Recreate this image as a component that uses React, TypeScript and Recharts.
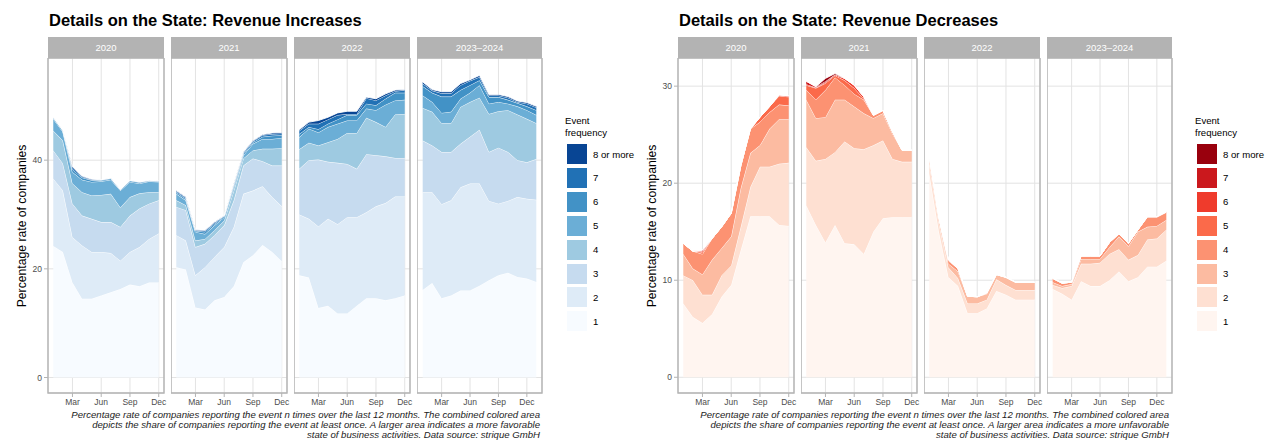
import React from 'react'
import { AreaChart, Area, XAxis, YAxis, CartesianGrid, ReferenceArea } from 'recharts'

const FONT = '"Liberation Sans", Arial, Helvetica, sans-serif'

// RColorBrewer 8-class palettes, level 1 first
const BLUES = ['#F7FBFF', '#DEEBF7', '#C6DBEF', '#9ECAE1', '#6BAED6', '#4292C6', '#2171B5', '#084594']
const REDS  = ['#FFF5F0', '#FEE0D2', '#FCBBA1', '#FC9272', '#FB6A4A', '#EF3B2C', '#CB181D', '#99000D']

const FREQ_LABELS = ['1', '2', '3', '4', '5', '6', '7', '8 or more']
const FACETS = ['2020', '2021', '2022', '2023–2024']
const MONTH_TICKS = [3, 6, 9, 12]
const MONTH_NAMES: Record<number, string> = { 3: 'Mar', 6: 'Jun', 9: 'Sep', 12: 'Dec' }

// ── Revenue increases: share (%) per event frequency, one row per level 1..8 ──
const INC_2020 = [
  [24.2, 23.1, 17.5, 14.5, 14.5, 15.1, 15.7, 16.3, 17.1, 16.8, 17.5, 17.5],
  [12.4, 11.3, 8.3, 9.8, 8.6, 8.0, 7.2, 5.2, 6.0, 7.2, 8.0, 9.0],
  [5.2, 5.0, 6.2, 5.5, 6.1, 5.5, 5.7, 6.2, 6.7, 7.1, 6.5, 6.1],
  [3.6, 4.2, 3.7, 4.3, 4.3, 5.0, 5.2, 3.6, 3.4, 2.8, 2.1, 1.5],
  [2.2, 1.6, 2.1, 2.3, 2.5, 2.5, 2.6, 3.1, 2.8, 1.8, 2.0, 1.9],
  [0.2, 0.2, 0.5, 0.4, 0.3, 0.2, 0.2, 0.1, 0.2, 0.2, 0.1, 0.1],
  [0.1, 0.1, 0.3, 0.2, 0.1, 0.1, 0.1, 0.1, 0.1, 0.1, 0.1, 0.1],
  [0.0, 0.0, 0.2, 0.1, 0.1, 0.0, 0.0, 0.0, 0.0, 0.0, 0.0, 0.0],
]
const INC_2021 = [
  [20.3, 19.9, 12.9, 12.5, 14.2, 14.8, 16.8, 21.2, 22.5, 24.4, 23.1, 21.4],
  [5.9, 5.3, 5.9, 7.8, 8.0, 9.2, 10.9, 12.6, 11.9, 10.8, 10.1, 10.1],
  [5.2, 5.6, 5.2, 4.3, 4.0, 4.0, 4.9, 5.2, 5.9, 4.6, 5.8, 7.5],
  [1.2, 0.9, 1.2, 0.9, 0.9, 0.9, 1.8, 1.3, 1.5, 2.3, 3.1, 3.2],
  [1.2, 0.9, 1.6, 0.9, 0.9, 0.6, 0.6, 0.6, 1.2, 1.8, 1.8, 1.9],
  [0.3, 0.3, 0.2, 0.4, 0.3, 0.2, 0.4, 0.3, 0.3, 0.4, 0.6, 0.5],
  [0.2, 0.2, 0.1, 0.2, 0.2, 0.1, 0.2, 0.2, 0.2, 0.3, 0.3, 0.3],
  [0.1, 0.1, 0.1, 0.1, 0.1, 0.0, 0.1, 0.1, 0.1, 0.1, 0.2, 0.2],
]
const INC_2022 = [
  [18.8, 18.4, 12.8, 13.2, 11.8, 11.8, 13.2, 14.6, 14.6, 14.2, 14.6, 15.1],
  [11.2, 10.8, 15.0, 16.0, 16.4, 17.7, 16.3, 15.8, 16.9, 17.9, 18.7, 18.2],
  [8.4, 10.8, 12.3, 10.5, 11.3, 9.8, 8.9, 10.7, 9.4, 8.6, 7.1, 7.1],
  [3.6, 3.2, 2.6, 3.6, 4.4, 5.7, 6.6, 6.7, 6.1, 5.4, 8.0, 8.1],
  [2.2, 2.6, 2.4, 2.8, 2.8, 2.3, 2.3, 1.7, 2.2, 4.1, 2.6, 2.6],
  [0.6, 0.3, 0.6, 0.6, 0.8, 1.0, 1.0, 0.9, 0.9, 1.1, 1.4, 1.3],
  [0.6, 0.6, 1.0, 0.8, 0.8, 0.2, 0.2, 1.0, 0.9, 0.6, 0.3, 0.5],
  [0.2, 0.3, 0.6, 0.4, 0.4, 0.5, 0.5, 0.2, 0.3, 0.3, 0.2, 0.1],
]
const INC_2023 = [
  [16.1, 17.4, 14.6, 15.1, 16.0, 16.0, 16.9, 17.9, 18.8, 19.3, 18.5, 18.2, 17.6],
  [18.0, 16.7, 17.3, 17.5, 19.0, 19.7, 18.8, 14.6, 13.2, 13.2, 14.7, 14.7, 15.1],
  [9.5, 8.6, 9.6, 8.9, 8.0, 8.6, 9.9, 9.0, 10.3, 9.0, 6.8, 6.7, 7.5],
  [6.0, 6.2, 5.3, 5.3, 6.8, 6.4, 5.9, 7.0, 6.7, 7.7, 8.4, 8.0, 6.6],
  [2.3, 1.8, 1.9, 2.1, 1.5, 1.7, 2.3, 1.9, 1.7, 1.2, 1.5, 1.6, 1.5],
  [1.7, 1.7, 3.0, 2.8, 1.6, 1.4, 0.9, 1.2, 0.9, 0.7, 0.6, 0.7, 0.9],
  [0.5, 0.4, 0.6, 0.6, 0.9, 0.8, 0.6, 0.3, 0.3, 0.4, 0.2, 0.5, 0.5],
  [0.3, 0.2, 0.3, 0.3, 0.3, 0.2, 0.3, 0.2, 0.2, 0.2, 0.2, 0.2, 0.2],
]

// ── Revenue decreases ──
const DEC_2020 = [
  [7.6, 6.2, 5.6, 6.5, 8.3, 9.5, 13.1, 16.6, 16.6, 16.6, 15.7, 15.6],
  [2.9, 3.8, 2.9, 2.0, 2.2, 2.0, 2.4, 3.0, 5.1, 5.1, 6.3, 6.5],
  [2.2, 1.2, 2.1, 3.6, 2.8, 3.0, 4.0, 3.5, 2.2, 3.9, 4.6, 4.5],
  [1.1, 1.8, 2.1, 2.2, 2.2, 2.4, 2.3, 2.5, 2.4, 1.7, 1.5, 1.4],
  [0.0, 0.0, 0.2, 0.0, 0.0, 0.0, 0.0, 0.0, 0.5, 0.6, 0.9, 0.9],
  [0.0, 0.0, 0.1, 0.0, 0.0, 0.0, 0.0, 0.0, 0.0, 0.0, 0.1, 0.1],
  [0.0, 0.0, 0.1, 0.0, 0.0, 0.0, 0.0, 0.0, 0.0, 0.0, 0.0, 0.0],
  [0.0, 0.0, 0.0, 0.0, 0.0, 0.0, 0.0, 0.0, 0.0, 0.0, 0.0, 0.0],
]
const DEC_2021 = [
  [17.7, 15.7, 13.9, 15.7, 13.8, 13.7, 12.7, 15.0, 16.4, 16.5, 16.5, 16.5],
  [6.0, 6.6, 8.6, 7.5, 10.5, 9.9, 10.8, 8.9, 8.0, 6.0, 5.7, 5.7],
  [4.9, 4.4, 4.3, 5.4, 4.3, 4.3, 3.7, 2.8, 2.8, 2.6, 1.2, 1.2],
  [1.0, 1.9, 2.8, 2.3, 1.5, 1.3, 1.4, 0.3, 0.3, 0.2, 0.0, 0.0],
  [0.5, 1.2, 0.7, 0.2, 0.5, 0.6, 0.1, 0.0, 0.0, 0.0, 0.0, 0.0],
  [0.1, 0.05, 0.1, 0.1, 0.2, 0.3, 0.2, 0.0, 0.0, 0.0, 0.0, 0.0],
  [0.3, 0.1, 0.1, 0.0, 0.0, 0.0, 0.0, 0.0, 0.0, 0.0, 0.0, 0.0],
  [0.0, 0.0, 0.3, 0.1, 0.0, 0.0, 0.0, 0.0, 0.0, 0.0, 0.0, 0.0],
]
const DEC_2022 = [
  [21.0, 15.0, 10.3, 9.4, 6.6, 6.6, 7.1, 8.9, 8.5, 8.0, 8.0, 8.0],
  [1.2, 1.0, 1.0, 0.8, 1.0, 1.0, 0.9, 1.2, 1.0, 1.0, 1.0, 1.0],
  [0.6, 0.5, 0.4, 0.7, 0.75, 0.7, 0.6, 0.5, 0.8, 0.8, 0.8, 0.8],
  [0.0, 0.0, 0.3, 0.3, 0.0, 0.0, 0.1, 0.0, 0.0, 0.0, 0.0, 0.0],
  [0.0, 0.0, 0.1, 0.0, 0.0, 0.0, 0.0, 0.0, 0.0, 0.0, 0.0, 0.0],
  [0.0, 0.0, 0.0, 0.0, 0.0, 0.0, 0.0, 0.0, 0.0, 0.0, 0.0, 0.0],
  [0.0, 0.0, 0.0, 0.0, 0.0, 0.0, 0.0, 0.0, 0.0, 0.0, 0.0, 0.0],
  [0.0, 0.0, 0.0, 0.0, 0.0, 0.0, 0.0, 0.0, 0.0, 0.0, 0.0, 0.0],
]
const DEC_2023 = [
  [9.1, 8.6, 8.0, 9.9, 9.4, 9.4, 10.0, 10.9, 9.9, 10.3, 11.4, 11.4, 12.0],
  [0.4, 0.6, 1.4, 1.8, 2.3, 2.4, 2.7, 2.3, 2.2, 2.3, 2.8, 2.9, 3.2],
  [0.3, 0.2, 0.2, 0.5, 0.5, 0.4, 0.7, 1.3, 1.4, 2.4, 1.3, 1.3, 1.0],
  [0.4, 0.3, 0.2, 0.3, 0.3, 0.3, 0.5, 0.3, 0.3, 0.2, 1.0, 0.9, 0.8],
  [0.0, 0.0, 0.0, 0.0, 0.0, 0.0, 0.0, 0.0, 0.0, 0.0, 0.05, 0.05, 0.05],
  [0.0, 0.0, 0.0, 0.0, 0.0, 0.0, 0.0, 0.0, 0.0, 0.0, 0.0, 0.0, 0.0],
  [0.0, 0.0, 0.0, 0.0, 0.0, 0.0, 0.0, 0.0, 0.0, 0.0, 0.0, 0.0, 0.0],
  [0.0, 0.0, 0.0, 0.0, 0.0, 0.0, 0.0, 0.0, 0.0, 0.0, 0.0, 0.0, 0.0],
]

const CAPTION_INC = [
  'Percentage rate of companies reporting the event n times over the last 12 months. The combined colored area',
  'depicts the share of companies reporting the event at least once. A larger area indicates a more favorable',
  'state of business activities. Data source: strique GmbH',
]
const CAPTION_DEC = [
  'Percentage rate of companies reporting the event n times over the last 12 months. The combined colored area',
  'depicts the share of companies reporting the event at least once. A larger area indicates a more unfavorable',
  'state of business activities. Data source: strique GmbH',
]

// ── Layout (ggplot-like facet panels) ────────────────────────────────────────
const PANEL_TOP = 58
const PANEL_H   = 335
const STRIP_H   = 21
const X_AXIS_H  = 20
const Y_AXIS_W  = 40
const RIGHT_PAD = 12   // room for the "Dec" label past the panel edge
const GRID      = '#E3E3E3'
const BORDER    = '#B3B3B3'
const AXIS_TXT  = '#4D4D4D'

function toRows(bands: number[][]) {
  return bands[0].map((_, i) => {
    const row: Record<string, number> = { m: i + 1 }
    bands.forEach((b, k) => { row['f' + (k + 1)] = b[i] })
    return row
  })
}

function Facet({ left, width, label, bands, colors, yDomain, yTicks, showY }: {
  left: number; width: number; label: string; bands: number[][]; colors: string[]
  yDomain: [number, number]; yTicks: number[]; showY: boolean
}) {
  const n = bands[0].length
  const pad = 0.05 * (n - 1)
  const xDomain: [number, number] = [1 - pad, n + pad]
  const data = toRows(bands)
  const yw = showY ? Y_AXIS_W : 0
  return (
    <>
      <div style={{
        position: 'absolute', left, top: PANEL_TOP - STRIP_H, width, height: STRIP_H,
        background: BORDER, color: '#fff', fontSize: 9.5, lineHeight: STRIP_H + 'px',
        textAlign: 'center', fontFamily: FONT,
      }}>{label}</div>
      <div style={{ position: 'absolute', left: left - yw, top: PANEL_TOP }}>
        <AreaChart width={width + yw + RIGHT_PAD} height={PANEL_H + X_AXIS_H} data={data}
          margin={{ top: 0, right: RIGHT_PAD, bottom: 0, left: 0 }} style={{ overflow: 'visible' }}>
          <CartesianGrid stroke={GRID} strokeWidth={1} />
          <XAxis dataKey="m" type="number" domain={xDomain} allowDataOverflow ticks={MONTH_TICKS}
            tickFormatter={(v) => MONTH_NAMES[v as number] ?? ''} height={X_AXIS_H}
            axisLine={false} tickSize={4} tickLine={{ stroke: BORDER }}
            tick={{ fontSize: 8.5, fill: AXIS_TXT, fontFamily: FONT }} interval={0} />
          <YAxis type="number" domain={yDomain} allowDataOverflow ticks={yTicks} hide={!showY}
            width={Y_AXIS_W} axisLine={false} tickSize={4} tickLine={{ stroke: BORDER }}
            tick={{ fontSize: 8.5, fill: AXIS_TXT, fontFamily: FONT }} interval={0} />
          {colors.map((c, k) => (
            <Area key={k} dataKey={'f' + (k + 1)} stackId="s" type="linear"
              fill={c} fillOpacity={1} stroke="#fff" strokeWidth={0.9}
              dot={false} activeDot={false} isAnimationActive={false} />
          ))}
          <ReferenceArea x1={xDomain[0]} x2={xDomain[1]} y1={yDomain[0]} y2={yDomain[1]}
            fill="none" stroke={BORDER} strokeWidth={1.4} ifOverflow="visible" />
        </AreaChart>
      </div>
    </>
  )
}

function Legend({ left, colors }: { left: number; colors: string[] }) {
  const order = [7, 6, 5, 4, 3, 2, 1, 0]
  return (
    <div style={{ position: 'absolute', left, top: 115, fontFamily: FONT, fontSize: 9.6, color: '#000' }}>
      <div style={{ lineHeight: '12px', whiteSpace: 'nowrap' }}>Event<br />frequency</div>
      {order.map((k, i) => (
        <div key={k} style={{ position: 'absolute', left: 2, top: 29 + i * 23.9, display: 'flex', alignItems: 'center' }}>
          <div style={{ width: 20, height: 20, background: colors[k] }} />
          <span style={{ marginLeft: 6, whiteSpace: 'nowrap' }}>{FREQ_LABELS[k]}</span>
        </div>
      ))}
    </div>
  )
}

function Block({ x0, title, facets, colors, yDomain, yTicks, caption, captionRight }: {
  x0: number; title: string; facets: number[][][]; colors: string[]
  yDomain: [number, number]; yTicks: number[]; caption: string[]; captionRight: number
}) {
  const widths = [116, 116, 116, 125]
  const lefts = [x0, x0 + 123, x0 + 246, x0 + 369]
  return (
    <>
      <div style={{
        position: 'absolute', left: x0 + 1, top: 11, fontFamily: FONT, fontWeight: 'bold',
        fontSize: 16.5, lineHeight: '18px', whiteSpace: 'nowrap',
      }}>{title}</div>
      <div style={{
        position: 'absolute', left: x0 - 26 - 100, top: PANEL_TOP + PANEL_H / 2 - 8, width: 200,
        textAlign: 'center', fontFamily: FONT, fontSize: 12.2, lineHeight: '16px',
        transform: 'rotate(-90deg)', whiteSpace: 'nowrap',
      }}>Percentage rate of companies</div>
      {facets.map((bands, i) => (
        <Facet key={i} left={lefts[i]} width={widths[i]} label={FACETS[i]} bands={bands}
          colors={colors} yDomain={yDomain} yTicks={yTicks} showY={i === 0} />
      ))}
      <Legend left={x0 + 517} colors={colors} />
      <div style={{
        position: 'absolute', left: captionRight - 600, top: 410, width: 600, textAlign: 'right',
        fontFamily: FONT, fontStyle: 'italic', fontSize: 9.6, lineHeight: '10px', color: '#222',
        whiteSpace: 'nowrap',
      }}>
        {caption.map((l, i) => <div key={i}>{l}</div>)}
      </div>
    </>
  )
}

export default function App() {
  return (
    <div style={{ position: 'absolute', left: 0, top: 0, width: 1267, height: 442, overflow: 'hidden', background: '#fff' }}>
      <Block x0={48} title="Details on the State: Revenue Increases"
        facets={[INC_2020, INC_2021, INC_2022, INC_2023]} colors={BLUES}
        yDomain={[-2.85, 58.8]} yTicks={[0, 20, 40]} caption={CAPTION_INC} captionRight={540} />
      <Block x0={678} title="Details on the State: Revenue Decreases"
        facets={[DEC_2020, DEC_2021, DEC_2022, DEC_2023]} colors={REDS}
        yDomain={[-1.62, 32.9]} yTicks={[0, 10, 20, 30]} caption={CAPTION_DEC} captionRight={1169} />
    </div>
  )
}
